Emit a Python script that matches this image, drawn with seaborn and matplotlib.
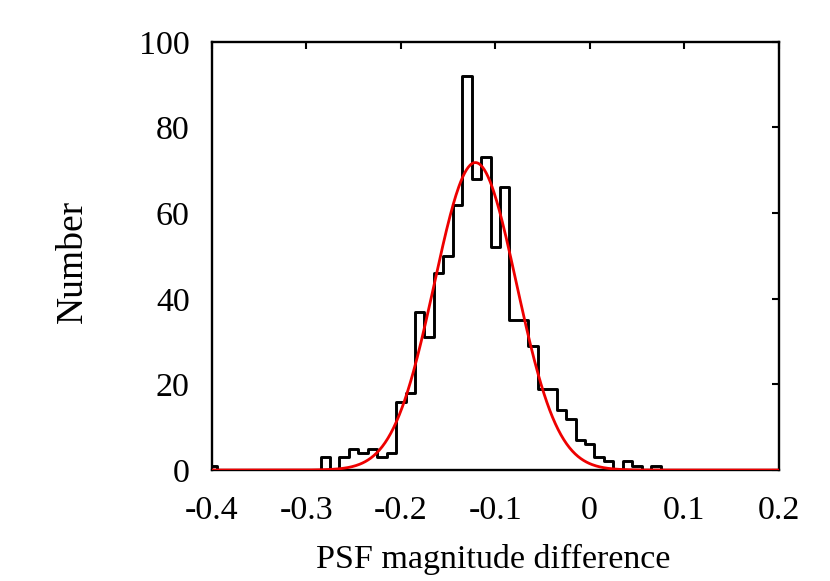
import numpy as np
import pandas as pd
import matplotlib
matplotlib.use("Agg")
import matplotlib.pyplot as plt
import seaborn as sns

# Bin centres (PSF magnitude difference) and counts
bin_centers = [round(-0.40 + 0.01 * i, 2) for i in range(61)]
counts = [
    1, 0, 0, 0, 0, 0, 0, 0, 0, 0,      # -0.40 .. -0.31
    0, 0, 3, 0, 3, 5, 4, 5, 3, 4,      # -0.30 .. -0.21
    16, 18, 37, 31, 46, 50, 62, 92, 68, 73,  # -0.20 .. -0.11
    52, 66, 35, 35, 29, 19, 19, 14, 12, 7,   # -0.10 .. -0.01
    6, 3, 2, 0, 2, 1, 0, 1, 0, 0,      # 0.00 .. 0.09
    0, 0, 0, 0, 0, 0, 0, 0, 0, 0,      # 0.10 .. 0.19
    0,                                 # 0.20
]
bin_width = 0.01

# Gaussian fit parameters
fit_amplitude = 71.8
fit_center = -0.121
fit_sigma = 0.0435

x_ticks = [-0.4, -0.3, -0.2, -0.1, 0, 0.1, 0.2]
x_tick_labels = ["-0.4", "-0.3", "-0.2", "-0.1", "0", "0.1", "0.2"]
y_ticks = [0, 20, 40, 60, 80, 100]

sns.set_style("white")
plt.rcParams["font.family"] = ["Liberation Serif", "DejaVu Serif"]
plt.rcParams["text.color"] = "black"
plt.rcParams["axes.labelcolor"] = "black"

fig = plt.figure(figsize=(8.3, 5.81), dpi=100)
ax = fig.add_axes([0.2554, 0.191, 0.938 - 0.2554, 0.928 - 0.191])

df = pd.DataFrame({"x": bin_centers, "n": counts})
lo = bin_centers[0] - bin_width / 2
hi = bin_centers[-1] + bin_width / 2

# Gaussian fit curve
xs = np.linspace(-0.4, 0.2, 600)
fit_df = pd.DataFrame({"x": xs,
                       "y": fit_amplitude * np.exp(-0.5 * ((xs - fit_center) / fit_sigma) ** 2)})
sns.lineplot(data=fit_df, x="x", y="y", ax=ax, color="#ee0000", linewidth=2.0, zorder=3)

sns.histplot(data=df, x="x", weights="n", binwidth=bin_width, binrange=(lo, hi),
             element="step", fill=False, color="black", linewidth=2.1, ax=ax, zorder=2)

ax.set_xlim(-0.4, 0.2)
ax.set_ylim(0, 100)
ax.set_xticks(x_ticks)
ax.set_xticklabels(x_tick_labels)
ax.set_yticks(y_ticks)
ax.tick_params(direction="in", length=5, width=1.5, top=True, right=True,
               labelsize=24.5, colors="black")
ax.tick_params(axis="x", pad=18)
ax.tick_params(axis="y", pad=16)
for s in ax.spines.values():
    s.set_linewidth(1.7)
    s.set_color("black")
    s.set_visible(True)

ax.set_xlabel("PSF magnitude difference", fontsize=24.5, color="black")
ax.set_ylabel("Number", fontsize=27, color="black")
ax.xaxis.set_label_coords(0.4965, -0.172)
ax.yaxis.set_label_coords(-0.2157, 0.488)

fig.savefig("out.png", dpi=100)
